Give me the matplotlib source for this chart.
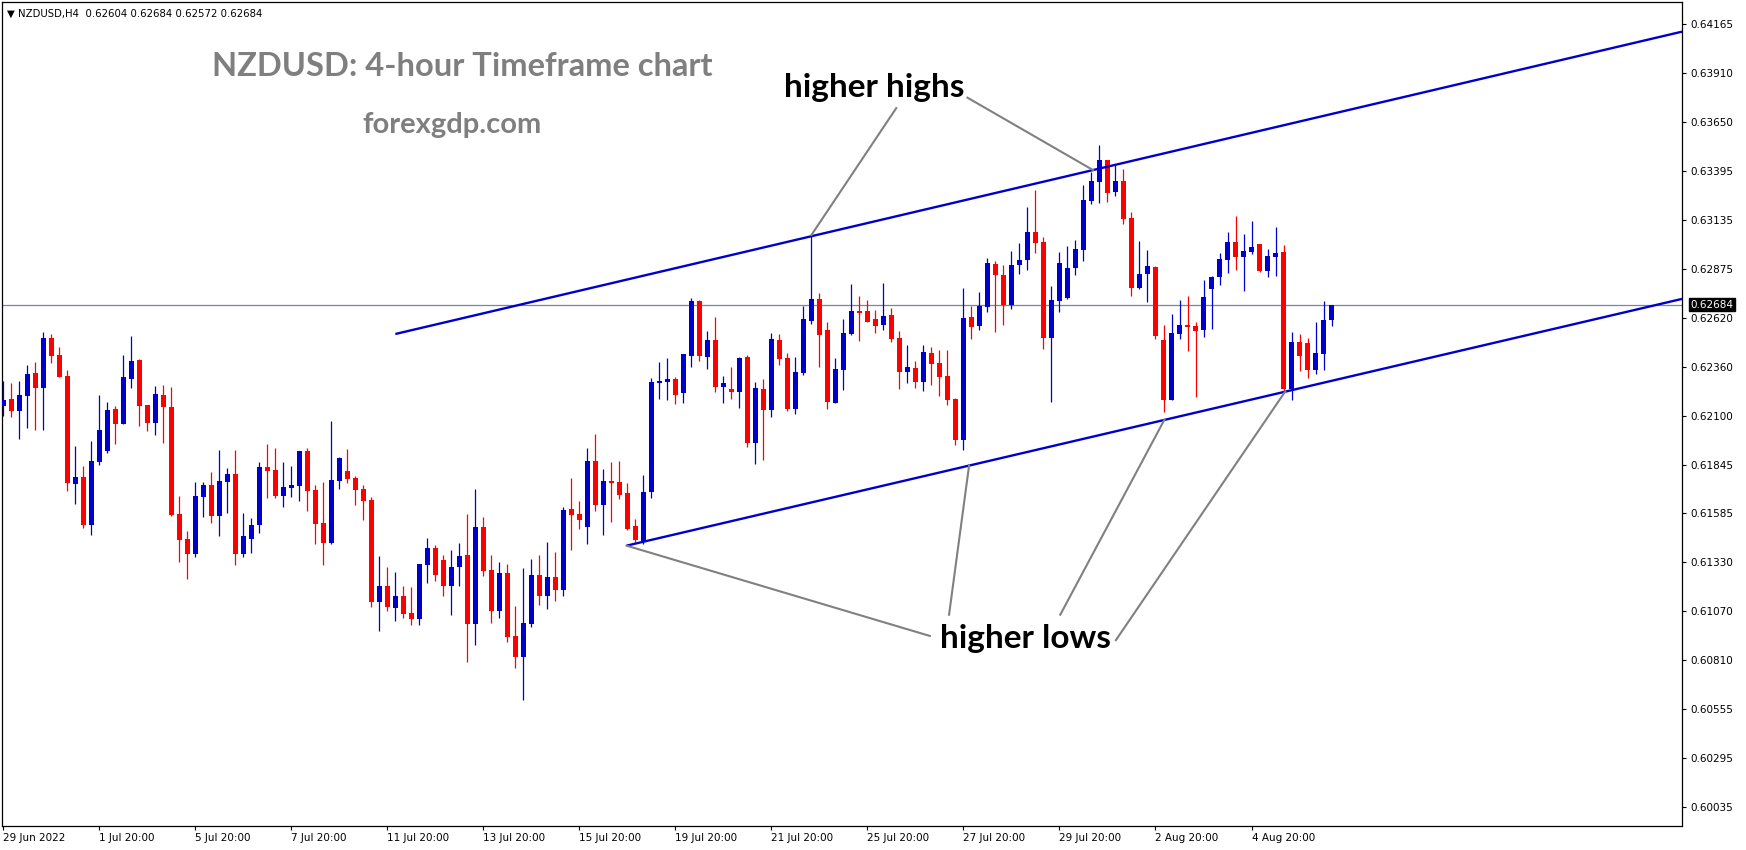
import numpy as np
import matplotlib
matplotlib.use("Agg")
import matplotlib.pyplot as plt

# NZDUSD H4 candles (bar 0 = 29 Jun 20:00)
opens = [0.62152, 0.62187, 0.62126, 0.62205, 0.62324, 0.62247, 0.62509, 0.62419, 0.62308, 0.61741,
         0.61776, 0.61525, 0.61857, 0.61915, 0.62134, 0.62057, 0.62294, 0.62393, 0.62155, 0.62062,
         0.62208, 0.62145, 0.61581, 0.61449, 0.61370, 0.61670, 0.61734, 0.61570, 0.61751, 0.61792,
         0.61370, 0.61449, 0.61523, 0.61829, 0.61813, 0.61676, 0.61718, 0.61728, 0.61913, 0.61707,
         0.61533, 0.61428, 0.61755, 0.61807, 0.61771, 0.61712, 0.61655, 0.61119, 0.61201, 0.61087,
         0.61148, 0.61059, 0.61029, 0.61314, 0.61401, 0.61338, 0.61203, 0.61303, 0.61365, 0.61003,
         0.61512, 0.61285, 0.61071, 0.61270, 0.60938, 0.60829, 0.61003, 0.61259, 0.61150, 0.61250,
         0.61180, 0.61607, 0.61581, 0.61512, 0.61860, 0.61628, 0.61755, 0.61749, 0.61691, 0.61517,
         0.61433, 0.61697, 0.62271, 0.62277, 0.62292, 0.62219, 0.62414, 0.62704, 0.62408, 0.62498,
         0.62252, 0.62240, 0.62226, 0.62408, 0.61957, 0.62240, 0.62131, 0.62498, 0.62403, 0.62136,
         0.62326, 0.62600, 0.62714, 0.62551, 0.62168, 0.62342, 0.62532, 0.62651, 0.62651, 0.62609,
         0.62579, 0.62630, 0.62509, 0.62331, 0.62350, 0.62278, 0.62429, 0.62377, 0.62308, 0.62189,
         0.61973, 0.62619, 0.62574, 0.62674, 0.62899, 0.62841, 0.62683, 0.62893, 0.62920, 0.63067,
         0.63015, 0.62510, 0.62705, 0.62721, 0.62879, 0.62974, 0.63233, 0.63333, 0.63447, 0.63280,
         0.63336, 0.63141, 0.62774, 0.62848, 0.62885, 0.62498, 0.62183, 0.62531, 0.62577, 0.62572,
         0.62552, 0.62769, 0.62832, 0.62922, 0.63015, 0.62937, 0.62964, 0.63004, 0.62864, 0.62937,
         0.62962, 0.62241, 0.62488, 0.62482, 0.62342, 0.62426, 0.62604]
highs = [0.62282, 0.62271, 0.62282, 0.62366, 0.62382, 0.62540, 0.62530, 0.62461, 0.62340, 0.61939,
         0.61834, 0.61966, 0.62208, 0.62171, 0.62150, 0.62419, 0.62519, 0.62398, 0.62155, 0.62256,
         0.62261, 0.62250, 0.61676, 0.61491, 0.61751, 0.61749, 0.61802, 0.61918, 0.61823, 0.61918,
         0.61586, 0.61560, 0.61855, 0.61950, 0.61929, 0.61855, 0.61834, 0.61913, 0.61929, 0.61734,
         0.61749, 0.62071, 0.61881, 0.61923, 0.61781, 0.61734, 0.61670, 0.61359, 0.61301, 0.61275,
         0.61201, 0.61196, 0.61317, 0.61454, 0.61417, 0.61365, 0.61391, 0.61428, 0.61581, 0.61712,
         0.61565, 0.61365, 0.61328, 0.61317, 0.61097, 0.61298, 0.61343, 0.61363, 0.61433, 0.61380,
         0.61616, 0.61771, 0.61649, 0.61929, 0.62002, 0.61818, 0.61855, 0.61860, 0.61744, 0.61554,
         0.61786, 0.62298, 0.62382, 0.62403, 0.62303, 0.62424, 0.62719, 0.62709, 0.62545, 0.62619,
         0.62308, 0.62356, 0.62408, 0.62419, 0.62277, 0.62292, 0.62535, 0.62530, 0.62430, 0.62408,
         0.62677, 0.63052, 0.62746, 0.62593, 0.62403, 0.62609, 0.62793, 0.62730, 0.62709, 0.62656,
         0.62799, 0.62667, 0.62545, 0.62472, 0.62387, 0.62472, 0.62461, 0.62445, 0.62445, 0.62194,
         0.62772, 0.62677, 0.62751, 0.62930, 0.62915, 0.62893, 0.62967, 0.63009, 0.63199, 0.63289,
         0.63041, 0.62784, 0.62962, 0.62994, 0.63025, 0.63315, 0.63384, 0.63526, 0.63447, 0.63421,
         0.63400, 0.63173, 0.63020, 0.62973, 0.62890, 0.62577, 0.62635, 0.62709, 0.62732, 0.62593,
         0.62814, 0.62835, 0.62957, 0.63067, 0.63152, 0.63057, 0.63125, 0.63004, 0.62978, 0.63094,
         0.62999, 0.62540, 0.62530, 0.62509, 0.62593, 0.62704, 0.62684]
lows = [0.62099, 0.62094, 0.61978, 0.62036, 0.62025, 0.62025, 0.62379, 0.62305, 0.61704, 0.61635,
        0.61509, 0.61472, 0.61841, 0.61904, 0.61952, 0.62057, 0.62247, 0.62046, 0.62020, 0.61999,
        0.61957, 0.61572, 0.61329, 0.61240, 0.61356, 0.61565, 0.61535, 0.61465, 0.61586, 0.61314,
        0.61356, 0.61375, 0.61481, 0.61665, 0.61665, 0.61618, 0.61670, 0.61649, 0.61597, 0.61423,
        0.61314, 0.61423, 0.61713, 0.61744, 0.61628, 0.61551, 0.61092, 0.60966, 0.61071, 0.61018,
        0.61034, 0.60997, 0.60997, 0.61219, 0.61229, 0.61150, 0.61050, 0.61203, 0.60802, 0.60892,
        0.61256, 0.61008, 0.61034, 0.60908, 0.60771, 0.60602, 0.60987, 0.61100, 0.61080, 0.61120,
        0.61150, 0.61391, 0.61502, 0.61423, 0.61597, 0.61470, 0.61539, 0.61660, 0.61496, 0.61433,
        0.61423, 0.61665, 0.62187, 0.62182, 0.62161, 0.62166, 0.62356, 0.62387, 0.62345, 0.62226,
        0.62168, 0.62189, 0.62141, 0.61936, 0.61846, 0.61867, 0.62094, 0.62368, 0.62126, 0.62110,
        0.62315, 0.62584, 0.62358, 0.62136, 0.62168, 0.62236, 0.62526, 0.62495, 0.62595, 0.62537,
        0.62553, 0.62489, 0.62241, 0.62273, 0.62247, 0.62231, 0.62263, 0.62205, 0.62157, 0.61946,
        0.61920, 0.62505, 0.62553, 0.62647, 0.62542, 0.62579, 0.62663, 0.62846, 0.62867, 0.62957,
        0.62452, 0.62173, 0.62647, 0.62716, 0.62842, 0.62916, 0.63217, 0.63222, 0.63227, 0.63259,
        0.63111, 0.62732, 0.62769, 0.62700, 0.62505, 0.62120, 0.62183, 0.62505, 0.62442, 0.62199,
        0.62516, 0.62558, 0.62790, 0.62853, 0.62869, 0.62758, 0.62953, 0.62858, 0.62832, 0.62837,
        0.62220, 0.62183, 0.62336, 0.62299, 0.62321, 0.62342, 0.62572]
closes = [0.62182, 0.62126, 0.62208, 0.62319, 0.62247, 0.62509, 0.62416, 0.62305, 0.61746, 0.61776,
          0.61525, 0.61860, 0.62024, 0.62129, 0.62057, 0.62303, 0.62387, 0.62152, 0.62062, 0.62213,
          0.62147, 0.61577, 0.61445, 0.61370, 0.61676, 0.61734, 0.61570, 0.61755, 0.61792, 0.61370,
          0.61465, 0.61523, 0.61829, 0.61807, 0.61676, 0.61723, 0.61734, 0.61913, 0.61702, 0.61528,
          0.61428, 0.61760, 0.61876, 0.61765, 0.61707, 0.61651, 0.61119, 0.61201, 0.61092, 0.61148,
          0.61055, 0.61029, 0.61317, 0.61401, 0.61261, 0.61203, 0.61301, 0.61359, 0.61003, 0.61512,
          0.61282, 0.61071, 0.61270, 0.60934, 0.60829, 0.61006, 0.61259, 0.61150, 0.61250, 0.61180,
          0.61602, 0.61575, 0.61549, 0.61860, 0.61628, 0.61755, 0.61744, 0.61681, 0.61502, 0.61444,
          0.61697, 0.62277, 0.62282, 0.62292, 0.62208, 0.62424, 0.62704, 0.62414, 0.62498, 0.62252,
          0.62271, 0.62226, 0.62403, 0.61957, 0.62245, 0.62131, 0.62503, 0.62400, 0.62136, 0.62329,
          0.62609, 0.62714, 0.62526, 0.62173, 0.62345, 0.62535, 0.62651, 0.62642, 0.62595, 0.62574,
          0.62625, 0.62505, 0.62331, 0.62356, 0.62278, 0.62435, 0.62373, 0.62305, 0.62183, 0.61973,
          0.62614, 0.62568, 0.62679, 0.62904, 0.62841, 0.62683, 0.62893, 0.62920, 0.63067, 0.63009,
          0.62510, 0.62709, 0.62904, 0.62878, 0.62978, 0.63236, 0.63336, 0.63447, 0.63275, 0.63336,
          0.63138, 0.62774, 0.62846, 0.62888, 0.62521, 0.62183, 0.62535, 0.62577, 0.62568, 0.62547,
          0.62725, 0.62830, 0.62925, 0.63015, 0.62937, 0.62967, 0.62988, 0.62864, 0.62941, 0.62957,
          0.62241, 0.62488, 0.62415, 0.62342, 0.62430, 0.62604, 0.62684]

date_ticks = [0, 12, 24, 36, 48, 60, 72, 84, 96, 108, 120, 132, 144, 156]
date_labels = ["29 Jun 2022", "1 Jul 20:00", "5 Jul 20:00", "7 Jul 20:00", "11 Jul 20:00",
               "13 Jul 20:00", "15 Jul 20:00", "19 Jul 20:00", "21 Jul 20:00", "25 Jul 20:00",
               "27 Jul 20:00", "29 Jul 20:00", "2 Aug 20:00", "4 Aug 20:00"]
price_labels = ["0.64165", "0.63910", "0.63650", "0.63395", "0.63135", "0.62875", "0.62620",
                "0.62360", "0.62100", "0.61845", "0.61585", "0.61330", "0.61070", "0.60810",
                "0.60555", "0.60295", "0.60035"]

# channel lines: (bar, price) end points
upper_line = ([49, 209.8], [0.62530, 0.64124])
lower_line = ([77.9, 209.8], [0.61414, 0.62715])

# pointer lines: (from bar, from price, to bar, to price)
highs_ptrs = [(111.6, 0.63721, 101, 0.63052), (120.5, 0.63776, 136.2, 0.63394)]
lows_ptrs = [(115.8, 0.60938, 77.9, 0.61414), (118.2, 0.61050, 120.7, 0.61836),
             (132.1, 0.61050, 145.1, 0.62077), (139.05, 0.60916, 160.2, 0.62226)]

BLUE = "#0000CC"
RED = "#FF0000"

o = np.array(opens)
h = np.array(highs)
l = np.array(lows)
c = np.array(closes)
x = np.arange(len(o))
colors = np.where(c >= o, BLUE, RED)

W, H = 1746, 850
fig = plt.figure(figsize=(W / 100, H / 100), dpi=100)
fig.patch.set_facecolor("white")
ax = fig.add_axes([2 / W, 1 - 826 / H, 1680 / W, 824.5 / H])
ax.set_xlim(-0.16, 209.8)
ax.set_ylim(0.59936, 0.64283)

# candles
ax.vlines(x, l, h, colors=colors, lw=0.9, zorder=3)
body = np.maximum(np.abs(c - o), 0.00006)
ax.bar(x, body, bottom=np.minimum(o, c), width=0.62, color=colors, linewidth=0, zorder=4)

# current price line
ax.axhline(c[-1], color="#7a8699", lw=0.9, zorder=2)

# channel
ax.plot(*upper_line, color="#0000CD", lw=1.7, zorder=5, solid_capstyle="butt")
ax.plot(*lower_line, color="#0000CD", lw=1.7, zorder=5, solid_capstyle="butt")

for x0, y0, x1, y1 in highs_ptrs + lows_ptrs:
    ax.plot([x0, x1], [y0, y1], color="#808080", lw=1.5, zorder=6)

font = ["Lato", "DejaVu Sans"]
ax.text(108.9, 0.63832, "higher highs", fontsize=24, fontweight="bold", family=font,
        ha="center", va="center", color="black", zorder=7)
ax.text(127.8, 0.60927, "higher lows", fontsize=24, fontweight="bold", family=font,
        ha="center", va="center", color="black", zorder=7)

fig.text(462 / W, 1 - 66 / H, "NZDUSD: 4-hour Timeframe chart", fontsize=23.5, fontweight="bold",
         family=font, color="#7f7f7f", ha="center", va="center")
fig.text(452 / W, 1 - 125 / H, "forexgdp.com", fontsize=21, fontweight="bold",
         family=font, color="#7f7f7f", ha="center", va="center")

# header
ax.text(0.003, 0.985, "\u25bc NZDUSD,H4  0.62604 0.62684 0.62572 0.62684", transform=ax.transAxes,
        fontsize=7.3, color="black", ha="left", va="center")

# axes
for s in ax.spines.values():
    s.set_color("black")
    s.set_linewidth(0.9)
yt = np.linspace(0.64165, 0.60035, len(price_labels))
ax.yaxis.tick_right()
ax.set_yticks(yt)
ax.set_yticklabels(price_labels)
ax.tick_params(axis="y", direction="out", length=3, width=0.8, labelsize=7.5, pad=3, colors="black")
ax.set_xticks(date_ticks)
ax.set_xticklabels(date_labels, ha="left")
ax.tick_params(axis="x", direction="out", length=3, width=0.8, labelsize=7.5, pad=2, colors="black")

ax.annotate("0.62684", xy=(1.0, c[-1]), xycoords=("axes fraction", "data"),
            xytext=(6, 0), textcoords="offset points", fontsize=7.5, color="white",
            ha="left", va="center", annotation_clip=False,
            bbox=dict(boxstyle="square,pad=0.15", fc="black", ec="black"))

fig.savefig("out.png", dpi=100, facecolor="white")
